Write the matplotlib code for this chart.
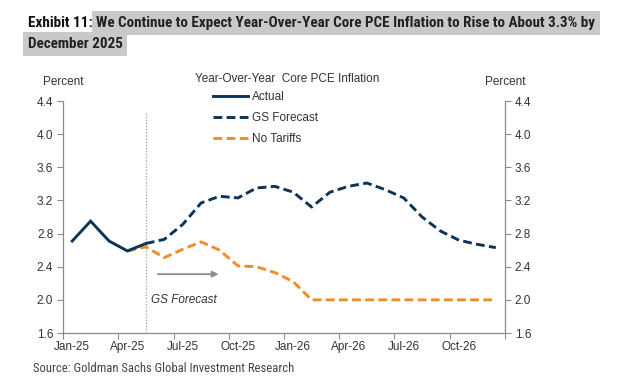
import matplotlib
matplotlib.use("Agg")
import matplotlib.pyplot as plt
import numpy as np

# ---- data ----
months = ["Jan-25", "Feb-25", "Mar-25", "Apr-25", "May-25", "Jun-25", "Jul-25", "Aug-25",
          "Sep-25", "Oct-25", "Nov-25", "Dec-25", "Jan-26", "Feb-26", "Mar-26", "Apr-26",
          "May-26", "Jun-26", "Jul-26", "Aug-26", "Sep-26", "Oct-26", "Nov-26", "Dec-26"]
tick_labels = ["Jan-25", "Apr-25", "Jul-25", "Oct-25", "Jan-26", "Apr-26", "Jul-26", "Oct-26"]

actual_months = months[0:5]
actual = [2.71, 2.95, 2.71, 2.59, 2.68]

gs_months = months[4:24]
gs_forecast = [2.68, 2.73, 2.91, 3.17, 3.25, 3.23, 3.35, 3.37, 3.30, 3.12, 3.30, 3.37,
               3.41, 3.33, 3.23, 3.00, 2.83, 2.72, 2.67, 2.63]

nt_months = months[3:24]
no_tariffs = [2.59, 2.64, 2.51, 2.61, 2.70, 2.60, 2.41, 2.40, 2.33, 2.22, 2.00, 2.00,
              2.00, 2.00, 2.00, 2.00, 2.00, 2.00, 2.00, 2.00, 2.00]

y_ticks = [1.6, 2.0, 2.4, 2.8, 3.2, 3.6, 4.0, 4.4]

title_a = "Exhibit 11: "
title_b = "We Continue to Expect Year-Over-Year Core PCE Inflation to Rise to About 3.3% by"
title_c = "December 2025"
source = "Source: Goldman Sachs Global Investment Research"

NAVY = "#0c3459"
ORANGE = "#f08c2a"
GRAY = "#8c8c8c"
TXT = "#333333"
SANS = ["Liberation Sans", "DejaVu Sans"]
NARROW = ["Roboto Condensed", "Roboto", "DejaVu Sans"]

plt.rcParams["font.family"] = SANS

W, H = 639, 383
fig = plt.figure(figsize=(W / 100, H / 100), dpi=100)
r = fig.canvas.get_renderer()

def fx(px):
    return px / W

def fy(py):
    return 1 - py / H

ax = fig.add_axes([fx(63), fy(333), fx(505) - fx(63), fy(101) - fy(333)])
idx = {m: i for i, m in enumerate(months)}

LW = 2.1
DASH = (3.0, 1.5)
ax.plot([idx[m] for m in nt_months], no_tariffs, color=ORANGE, lw=LW,
        dashes=DASH, label="No Tariffs", zorder=2)
ax.plot([idx[m] for m in gs_months], gs_forecast, color=NAVY, lw=LW,
        dashes=DASH, label="GS Forecast", zorder=3)
ax.plot([idx[m] for m in actual_months], actual, color=NAVY, lw=LW,
        label="Actual", zorder=4, solid_joinstyle="miter")

ax.set_xlim(-0.5, len(months) - 0.5)
ax.set_ylim(1.6, 4.4)

# forecast divider
ax.axvline(idx["May-25"], ymin=0, ymax=(4.25 - 1.6) / 2.8, color="#a0a0a0",
           lw=0.9, ls=(0, (1, 1.5)), zorder=1)

# x axis
ax.set_xticks(np.arange(-0.5, len(months), 3))
ax.set_xticklabels([])
ax.set_xticks([idx[t] for t in tick_labels], minor=True)
ax.set_xticklabels(tick_labels, minor=True)
ax.tick_params(axis="x", which="major", length=4, color=GRAY, width=0.8)
ax.tick_params(axis="x", which="minor", length=0, pad=6, labelsize=8.5, labelcolor=TXT)

ax.set_yticks(y_ticks)
ax.set_yticklabels([f"{v:.1f}" for v in y_ticks])
ax.tick_params(axis="y", length=4, color=GRAY, width=0.8, labelsize=8.5, labelcolor=TXT, pad=3)

for s in ["top", "right"]:
    ax.spines[s].set_visible(False)
for s in ["left", "bottom"]:
    ax.spines[s].set_color(GRAY)
    ax.spines[s].set_linewidth(0.9)

ax2 = ax.twinx()
ax2.set_ylim(1.6, 4.4)
ax2.set_yticks(y_ticks)
ax2.set_yticklabels([f"{v:.1f}" for v in y_ticks])
ax2.tick_params(axis="y", length=4, color=GRAY, width=0.8, labelsize=8.5, labelcolor=TXT, pad=3)
for s in ["top", "left", "bottom"]:
    ax2.spines[s].set_visible(False)
ax2.spines["right"].set_color(GRAY)
ax2.spines["right"].set_linewidth(0.9)

# Percent labels
fig.text(fx(63), fy(82), "Percent", ha="center", va="center", fontsize=8.5, color=TXT)
fig.text(fx(505), fy(82), "Percent", ha="center", va="center", fontsize=8.5, color=TXT)

# legend
fig.text(fx(287), fy(79), "Year-Over-Year  Core PCE Inflation", ha="center", va="center",
         fontsize=8.5, color=TXT)
h, l = ax.get_legend_handles_labels()
order = [2, 1, 0]
leg = ax.legend([h[i] for i in order], [l[i] for i in order], loc="upper left",
                bbox_to_anchor=(fx(213), fy(91)), bbox_transform=fig.transFigure,
                frameon=False, fontsize=8.5, handlelength=3.0, handletextpad=0.3,
                labelspacing=0.75, borderpad=0, borderaxespad=0)
for t in leg.get_texts():
    t.set_color(TXT)

# arrow + annotation
ax.annotate("", xy=(idx["Aug-25"] + 0.95, 2.31), xytext=(idx["May-25"] + 0.65, 2.31),
            arrowprops=dict(arrowstyle="-|>", color=GRAY, lw=1.3, mutation_scale=9,
                            shrinkA=0, shrinkB=0))
ax.text(idx["May-25"] + 0.3, 2.0, "GS Forecast", style="italic", fontsize=8.5,
        color=TXT, ha="left", va="center")

# title (fit to reference width)
def fit_size(text, target_px, weight, size0=10.0):
    t = fig.text(0, 0, text, fontsize=size0, fontweight=weight, family=NARROW)
    w = t.get_window_extent(r).width
    t.remove()
    return size0 * target_px / w

tsize = fit_size(title_a + title_b, 570, "bold")
t1 = fig.text(fx(28), fy(23), title_a, fontsize=tsize, fontweight="bold",
              family=NARROW, color="#111111", ha="left", va="center")
bb = t1.get_window_extent(r)
fig.text(bb.x1 / W, fy(23), title_b, fontsize=tsize, fontweight="bold", family=NARROW,
         color="#222222", ha="left", va="center",
         bbox=dict(boxstyle="square,pad=0.3", fc="#c9c9c9", ec="none"))
fig.text(fx(28), fy(44), title_c, fontsize=tsize, fontweight="bold", family=NARROW,
         color="#222222", ha="left", va="center",
         bbox=dict(boxstyle="square,pad=0.3", fc="#c9c9c9", ec="none"))

ssize = fit_size(source, 258, "normal")
fig.text(fx(33), fy(369), source, fontsize=ssize, family=NARROW, color="#444444",
         ha="left", va="center")

fig.savefig("out.png", dpi=100)
